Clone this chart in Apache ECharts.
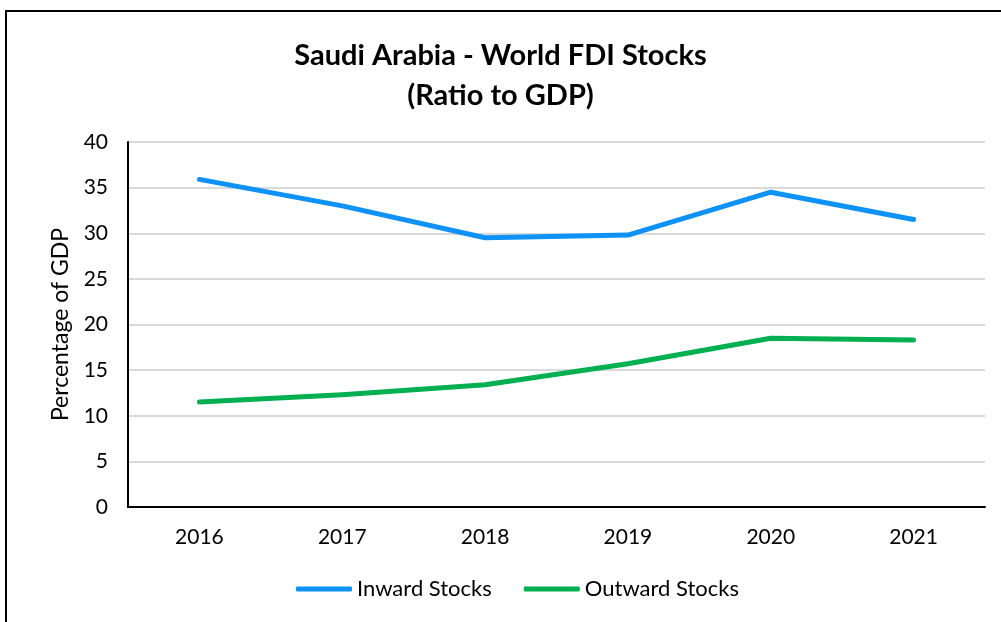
<!DOCTYPE html>
<html>
<head>
<meta charset="utf-8">
<script src="https://cdn.jsdelivr.net/npm/echarts@6/dist/echarts.min.js"></script>
<style>
html, body { margin: 0; padding: 0; background: #fff; }
#main { width: 1001px; height: 622px; }
</style>
</head>
<body>
<div id="main"></div>
<script>
var years = ['2016', '2017', '2018', '2019', '2020', '2021'];
var inwardStocks = [35.9, 33.0, 29.5, 29.8, 34.5, 31.5];
var outwardStocks = [11.5, 12.3, 13.4, 15.7, 18.5, 18.3];
var yTicks = { min: 0, max: 40, interval: 5 };

var font = 'Lato, "Open Sans", sans-serif';
var myChart = echarts.init(document.getElementById('main'));

var option = {
    backgroundColor: '#fff',
    animation: false,
    textStyle: { fontFamily: font },
    title: {
        text: 'Saudi Arabia - World FDI Stocks\n(Ratio to GDP)',
        left: 'center',
        top: 31,
        textStyle: {
            fontFamily: font,
            fontSize: 29,
            fontWeight: 'bold',
            color: '#000',
            lineHeight: 40
        }
    },
    graphic: [{
        type: 'rect',
        shape: { x: 6, y: 11, width: 1010, height: 630 },
        style: { fill: 'none', stroke: '#000', lineWidth: 2 }
    }],
    legend: {
        bottom: 17,
        left: 291,
        itemWidth: 56,
        itemHeight: 5,
        itemGap: 32,
        icon: 'roundRect',
        textStyle: { fontFamily: font, fontSize: 22, color: '#000', padding: [0, 0, 0, 0] },
        data: ['Inward Stocks', 'Outward Stocks']
    },
    grid: {
        left: 128,
        right: 16,
        top: 142,
        bottom: 115
    },
    xAxis: {
        type: 'category',
        data: years,
        boundaryGap: true,
        axisLine: { lineStyle: { color: '#000', width: 2 } },
        axisTick: { show: false },
        axisLabel: { fontFamily: font, fontSize: 21, color: '#000', margin: 20 },
        splitLine: { show: false }
    },
    yAxis: {
        type: 'value',
        min: yTicks.min,
        max: yTicks.max,
        interval: yTicks.interval,
        name: 'Percentage of GDP',
        nameLocation: 'middle',
        nameGap: 56,
        nameTextStyle: { fontFamily: font, fontSize: 23, color: '#000' },
        axisLine: { show: true, lineStyle: { color: '#000', width: 2 } },
        axisTick: { show: false },
        axisLabel: { fontFamily: font, fontSize: 21, color: '#000', margin: 20 },
        splitLine: { lineStyle: { color: '#d9d9d9', width: 2 } }
    },
    series: [{
        name: 'Inward Stocks',
        type: 'line',
        data: inwardStocks,
        showSymbol: false,
        symbol: 'none',
        color: '#0E92F7',
        lineStyle: { width: 5, color: '#0E92F7', cap: 'round', join: 'round' }
    }, {
        name: 'Outward Stocks',
        type: 'line',
        data: outwardStocks,
        showSymbol: false,
        symbol: 'none',
        color: '#00B050',
        lineStyle: { width: 5, color: '#00B050', cap: 'round', join: 'round' }
    }]
};
myChart.setOption(option);
</script>
</body>
</html>
